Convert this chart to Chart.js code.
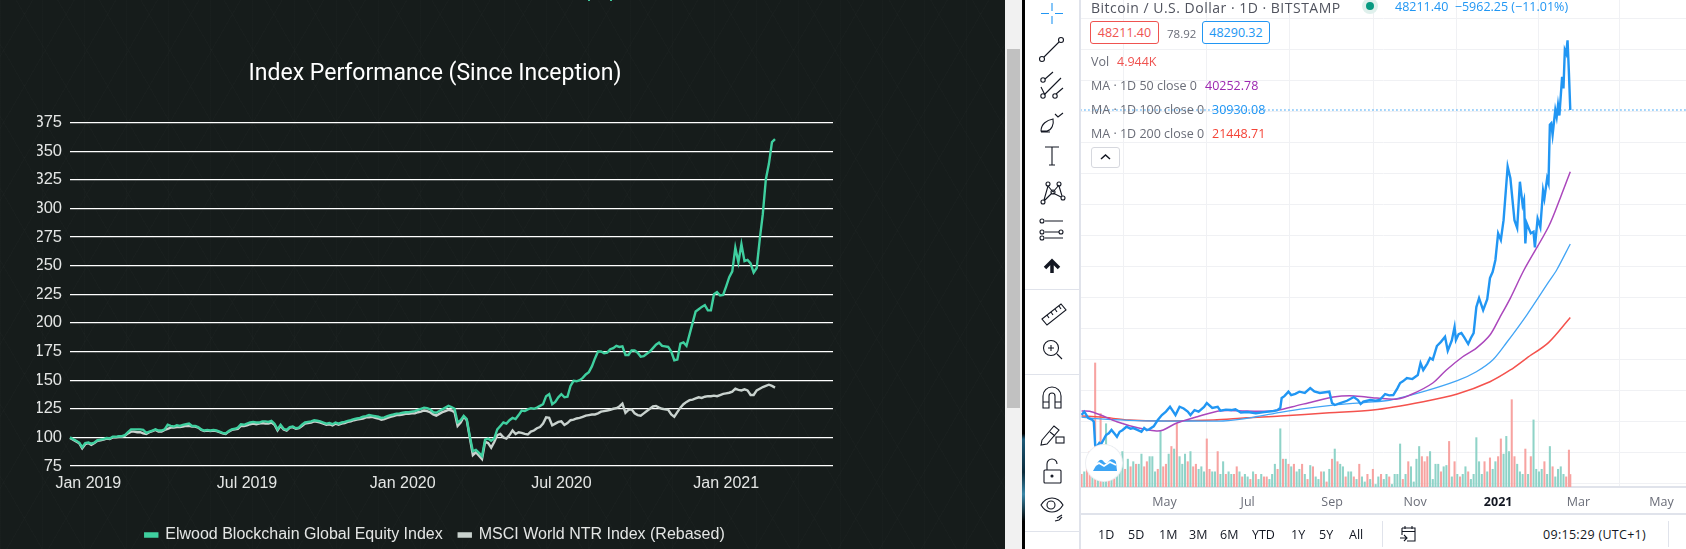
<!DOCTYPE html>
<html lang="en">
<head>
<meta charset="UTF-8">
<title>Index Performance</title>
<script src="https://cdn.jsdelivr.net/npm/chart.js"></script>
<style>
    html, body { margin: 0; padding: 0; width: 1686px; height: 549px; overflow: hidden; background: #fff; }
    .abs { position: absolute; white-space: nowrap; }
    #darkPanel {
        position: absolute; left: 0; top: 0; width: 1005px; height: 549px;
        background-color: #161c1b;
        background-image:
            repeating-linear-gradient(60deg, rgba(255,255,255,.012) 0 1px, transparent 1px 36px),
            repeating-linear-gradient(-60deg, rgba(255,255,255,.012) 0 1px, transparent 1px 36px),
            repeating-linear-gradient(90deg, rgba(255,255,255,.01) 0 1px, transparent 1px 42px);
    }
    #perfChart { position: absolute; left: 0; top: 0; }
    #track { position: absolute; left: 1005px; top: 0; width: 17px; height: 549px; background: #f1f1f1; }
    #thumb { position: absolute; left: 1007px; top: 49px; width: 13px; height: 359px; background: #c1c1c1; }
    #edge { position: absolute; left: 1022px; top: 0; width: 3px; height: 549px;
        background: linear-gradient(#000 0 79%, #1d5a78 80%, #0b2a3a 86%, #3a87a8 90%, #000 95%); }
    #toolbar { position: absolute; left: 1025px; top: 0; width: 55px; height: 549px; background: #fff; }
    #toolbar hr { position: absolute; left: 0; width: 55px; margin: 0; border: 0; height: 1px; background: #e0e3eb; }
    #sideBorder { position: absolute; left: 1079px; top: 0; width: 2px; height: 549px; background: #e0e3eb; }
    #btcChart { position: absolute; left: 1081px; top: 0; }
    .tv { font-family: "Open Sans", sans-serif; font-size: 12.5px; color: #6a6d78; transform: translateY(-50%); }
    .box { position: absolute; border: 1px solid; border-radius: 3px; box-sizing: border-box; text-align: center;
        font-family: "Open Sans", sans-serif; font-size: 12.5px; background: #fff; }
    #rangeLine { position: absolute; left: 1081px; top: 513px; width: 605px; height: 2px; background: #e0e3eb; }
    .sep { position: absolute; top: 521px; width: 1px; height: 26px; background: #e0e3eb; }
    #badge { position: absolute; left: 1086px; top: 445px; width: 36px; height: 36px; border-radius: 50%;
        background: #fff; box-shadow: 0 0 0 1px #eceef2; }
</style>
</head>
<body>
<div id="darkPanel"></div>
<div class="abs" style="left:588px;top:0;width:2px;height:1px;background:#3fc99c"></div>
<div class="abs" style="left:610px;top:0;width:2px;height:1px;background:#3fc99c"></div>
<canvas id="perfChart" width="870" height="553"></canvas>
<div id="track"></div>
<div id="thumb"></div>
<div id="edge"></div>

<div id="toolbar">
    <hr style="top:289px"><hr style="top:374px"><hr style="top:531px">
    <svg width="55" height="549" fill="none" stroke="#131722" stroke-width="1.1">
        <path d="M27 3v8M27 16v8M16 13.500h8M30 13.500h8" stroke="#2196f3"/>
        <circle cx="17" cy="59" r="2.500"/><circle cx="36" cy="40" r="2.500"/><path d="M19 57L34 42"/>
        <circle cx="18" cy="80" r="2.200"/><circle cx="18" cy="96" r="2.200"/><circle cx="30" cy="96" r="2.200"/>
        <path d="M20 79l8-7M20 94l16-16M31 94l7-6M20 95l-4-8"/>
        <path d="M16 131c0-7 6-11 12-12 1 5-1 11-6 12zM30 114l3 3 5-4M16 132h9"/>
        <path d="M20 147h14M27 147v18M24 165h6"/>
        <circle cx="18" cy="202" r="2"/><circle cx="23" cy="184" r="2"/><circle cx="34" cy="184" r="2"/><circle cx="28" cy="192" r="2"/><circle cx="38" cy="198" r="2"/>
        <path d="M19 200l4-14M23 186l5 6M28 192l6-7M34 186l3 10M19 201l8-8M28 193l8 4"/>
        <circle cx="17" cy="221" r="2"/><circle cx="17" cy="232" r="2"/><circle cx="17" cy="238" r="2"/><circle cx="36" cy="232" r="2"/>
        <path d="M20 221h18M20 238h18M20 232h14" />
        <path d="M27 273v-12M20 268l7-7 7 7" stroke-width="3.500"/>
        <path d="M17 319l19-15 5 6-19 15zM22 315l2 3M26 312l2 3M30 309l2 3M34 306l2 3"/>
        <circle cx="26" cy="348" r="7.500"/><path d="M32 354l5 5M23 348h6M26 345v6"/>
        <path d="M18 408v-12a9 9 0 0 1 18 0v12h-6v-12a3 3 0 0 0-6 0v12zM18 402h6M30 402h6"/>
        <path d="M17 440l12-14 5 4-12 14-6 1zM25 432l5 4"/><rect x="31" y="437" width="8" height="6" />
        <rect x="19" y="470" width="17" height="13" rx="1"/><path d="M22 470v-6a5 5 0 0 1 10 0" /><circle cx="27" cy="476" r="1" fill="#131722"/>
        <path d="M16 505c3-5 7-7 11-7s8 2 11 7c-3 5-7 7-11 7s-8-2-11-7z"/><circle cx="26" cy="505" r="4"/>
        <path d="M32 518l5-3M30 521l4-1 3-3"/>
    </svg>
</div>
<div id="sideBorder"></div>

<canvas id="btcChart" width="605" height="514"></canvas>

<div id="rangeLine"></div>

<span class="abs tv" style="left:1091px;top:7px;font-size:14px;letter-spacing:.5px;color:#50535e">Bitcoin / U.S. Dollar · 1D · BITSTAMP</span>
<div class="abs" style="left:1362px;top:-2px;width:16px;height:16px;border-radius:50%;background:#dff0ec"></div>
<div class="abs" style="left:1366px;top:2px;width:8px;height:8px;border-radius:50%;background:#089981"></div>
<span class="abs tv" style="left:1395px;top:6px;color:#2196f3">48211.40&nbsp; −5962.25 (−11.01%)</span>

<div class="box" style="left:1090px;top:21px;width:69px;height:23px;line-height:21px;border-color:#ef5350;color:#ef5350">48211.40</div>
<span class="abs tv" style="left:1167px;top:33px;font-size:11.500px">78.92</span>
<div class="box" style="left:1202px;top:21px;width:68px;height:23px;line-height:21px;border-color:#2196f3;color:#2196f3">48290.32</div>

<span class="abs tv" style="left:1091px;top:61px">Vol</span>
<span class="abs tv" style="left:1117px;top:61px;color:#ef5350">4.944K</span>
<span class="abs tv" style="left:1091px;top:85px">MA · 1D 50 close 0</span>
<span class="abs tv" style="left:1205px;top:85px;color:#9c27b0">40252.78</span>
<span class="abs tv" style="left:1091px;top:109px">MA · 1D 100 close 0</span>
<span class="abs tv" style="left:1212px;top:109px;color:#2196f3">30930.08</span>
<span class="abs tv" style="left:1091px;top:133px">MA · 1D 200 close 0</span>
<span class="abs tv" style="left:1212px;top:133px;color:#f44336">21448.71</span>
<div class="box" style="left:1091px;top:147px;width:29px;height:21px;border-color:#d6d8de">
    <svg width="27" height="19"><path d="M9 11l4.500-4 4.500 4" fill="none" stroke="#131722" stroke-width="1.500"/></svg>
</div>

<div id="badge">
    <svg width="36" height="36"><path d="M7 26l5-9c2-3 4-3 6 0 2 2 3 2 5-1 2-3 6-2 7 1l1 9z" fill="#3da5f4"/><path d="M8 21l5-3 5 3 6-4 6 3" fill="none" stroke="#fff" stroke-width="1.800"/></svg>
</div>

<span class="abs tv" style="left:1098px;top:534px;color:#131722">1D</span>
<span class="abs tv" style="left:1128px;top:534px;color:#131722">5D</span>
<span class="abs tv" style="left:1159px;top:534px;color:#131722">1M</span>
<span class="abs tv" style="left:1189px;top:534px;color:#131722">3M</span>
<span class="abs tv" style="left:1220px;top:534px;color:#131722">6M</span>
<span class="abs tv" style="left:1252px;top:534px;color:#131722">YTD</span>
<span class="abs tv" style="left:1291px;top:534px;color:#131722">1Y</span>
<span class="abs tv" style="left:1319px;top:534px;color:#131722">5Y</span>
<span class="abs tv" style="left:1349px;top:534px;color:#131722">All</span>
<div class="sep" style="left:1382px"></div>
<svg class="abs" style="left:1399px;top:525px" width="18" height="18" fill="none" stroke="#131722" stroke-width="1.100">
    <path d="M3 3h13v13H8M3 3v7M3 6.500h13M6 1v3M13 1v3M1 13h7M5 10l3 3-3 3"/>
</svg>
<span class="abs tv" style="left:1543px;top:534px;color:#131722;letter-spacing:.3px">09:15:29 (UTC+1)</span>
<div class="sep" style="left:1668px"></div>

<script>
    // left chart: one value roughly every half week
    const perfTickIndex = [6, 58, 109, 161, 215];
    const perfTickLabels = ['Jan 2019', 'Jul 2019', 'Jan 2020', 'Jul 2020', 'Jan 2021'];
    const perfSlots = 251;

    const elwoodValues = [
        100, 98.5, 97, 95.5, 91.5, 95, 95.5, 94.5, 95.5, 97.5,
        98, 98.5, 99.5, 99, 100.5, 100.5, 101, 101, 102, 104.5,
        107, 107, 107, 107, 106.5, 104, 105, 106, 107, 106,
        106, 107, 111, 110, 109.5, 110.5, 110, 111, 111.5, 112,
        110, 110, 109, 107, 106, 106.5, 106, 106.5, 106, 105,
        104, 103.5, 105.5, 107, 107.5, 108.5, 111.5, 111, 112, 113,
        113.5, 113, 113, 114, 114, 113.5, 114.5, 112, 107, 111,
        107.5, 106.5, 109, 109.5, 108, 108.5, 111, 113, 113.5, 114,
        115, 114.5, 114, 113, 112, 112.5, 111.5, 113, 112, 113,
        113.5, 114.5, 115, 116, 116.5, 117, 118, 118.5, 119.5, 119,
        118.5, 118, 117, 117.5, 118.5, 119.5, 120, 120.8, 121, 121.5,
        122, 122, 122.5, 123, 124, 125, 126, 125.5, 124.5, 122,
        121.5, 123, 124.5, 126, 127.5, 126.5, 125, 113, 115, 118.7,
        116, 101, 88, 89, 86.5, 83.6, 98, 99, 97, 99,
        107, 110, 113, 112, 115, 117, 116, 119.5, 123.5, 123,
        124.5, 125.5, 125, 126, 127.5, 129, 136, 137.7, 129, 131,
        135, 137.7, 135, 135.5, 145, 149.4, 149, 150, 152, 155,
        157, 162, 169, 175, 175, 173.5, 174, 177, 178, 180,
        179, 179.5, 172, 172, 176, 176, 174, 170.5, 171, 173,
        175, 178, 181, 182.8, 180, 179.5, 179, 175, 167.4, 168,
        182, 183, 180, 190, 200, 210, 212, 214, 215.6, 211,
        211, 225, 227, 224, 224.5, 232, 240, 245, 265.7, 253,
        268.7, 254, 255, 252, 244, 248, 273, 295, 325.5, 339,
        358, 360.5
    ];

    const msciValues = [
        99.5, 98, 96.5, 95, 90.5, 94, 95, 93.5, 95, 97,
        97.5, 98, 99, 98.5, 100, 100, 100.5, 100.5, 101.5, 103.5,
        105, 105, 104.5, 104.5, 103.5, 103, 104.5, 105.5, 106.5, 105,
        105, 106.5, 107.5, 108.5, 108.5, 109, 109, 109.5, 110, 110,
        109.5, 109.5, 108.5, 106.5, 105.5, 106, 105.5, 106, 105.5, 104.5,
        103.5, 103, 105, 106.5, 107, 107.5, 110, 110, 110.5, 111.5,
        112, 111.5, 112, 112.5, 112, 112, 113, 111, 106, 110,
        107, 106, 108.5, 109, 107.5, 108, 110, 112, 112.5, 113,
        114, 113.5, 113, 112, 111, 111.5, 110.5, 112, 111, 112,
        112.5, 113.5, 114, 115, 115.5, 116, 116.5, 117.5, 117.5, 118,
        117, 116.5, 115.5, 116, 117, 118, 118.5, 119.5, 119.5, 120,
        120.5, 120.5, 121, 121, 122, 122.5, 123.5, 123, 122, 120,
        119, 120.5, 122, 123, 124, 123.5, 122, 110, 113, 118,
        115, 99.7, 84.5, 87, 84, 81, 96, 95, 91, 96,
        102, 103, 100, 99, 102, 106, 103, 104.5, 104, 103,
        102.5, 105, 106, 108, 109, 112, 117.5, 117, 110.5, 112,
        113.5, 114, 110.8, 112.5, 115, 115.5, 116.5, 117, 118, 119,
        119.5, 120, 120, 121, 122.5, 123, 123.5, 124, 125, 125.5,
        127, 129.5, 121.5, 124, 124.5, 121, 119.5, 119, 121, 123,
        125, 127, 127.5, 126, 125, 124.5, 124, 120, 118, 122,
        126, 129, 131, 132.5, 133, 134, 135, 134.5, 135.5, 136,
        136, 136.5, 136, 137, 138, 138.5, 139, 140, 142.5, 141.5,
        141, 142, 141, 137, 137, 141, 142.5, 144, 145, 146,
        145, 143.5
    ];

    const perfYMin = 75;
    const perfYMax = 375;
    const perfYStep = 25;

    // right chart: prices in USD, days counted from 1 Mar 2020
    const priceDays = [
        0, 2, 5, 8, 9, 10, 11, 13, 14, 16, 18, 20, 22, 24, 26, 28, 30, 33, 36, 38,
        41, 44, 46, 48, 50, 53, 56, 59, 62, 65, 67, 69, 72, 75, 78, 80, 83, 86, 90, 92,
        96, 100, 102, 106, 110, 113, 117, 122, 128, 134, 141, 144, 146, 147, 149, 152, 154, 157, 160, 164,
        168, 171, 175, 179, 182, 184, 186, 190, 195, 200, 203, 205, 207, 212, 216, 219, 223, 226, 229, 232,
        234, 236, 239, 243, 247, 249, 251, 254, 256, 258, 261, 264, 267, 269, 272, 274, 275, 277, 279, 281,
        284, 286, 288, 290, 292, 295, 298, 300, 302, 304, 306, 308, 310, 313, 315, 318, 320, 322, 324, 325,
        326, 327, 330, 332, 333, 335, 337, 339, 340, 342, 343, 344, 345, 346, 348, 349, 350, 351, 353, 354,
        355, 356, 357, 358, 359
    ];
    const priceCloses = [
        8860, 9290, 8470, 8220, 8000, 5000, 4730, 5240, 5000, 5630, 6280, 6500, 6930, 6500, 6060, 6700, 6900, 7350, 7100, 7180,
        6950, 6700, 7180, 6900, 7050, 7400, 8220, 8860, 9300, 9930, 9400, 8860, 9930, 9700, 9300, 8860, 9500, 9300, 9900, 10400,
        9770, 9930, 9420, 9550, 9500, 9600, 9190, 9250, 9100, 9230, 9380, 9500, 9770, 11050, 11300, 11870, 11440, 11600, 11870, 11700,
        12340, 11900, 11700, 11800, 11870, 10400, 10150, 10400, 10700, 11180, 10800, 10280, 10600, 10800, 10700, 10800, 11570, 11400, 11440, 12300,
        12990, 13200, 13640, 13500, 14020, 15570, 14670, 15500, 16220, 16000, 17760, 18300, 18960, 17160, 18500, 20210, 18540, 19300, 19440, 18900,
        18020, 18800, 19440, 22790, 23950, 22400, 23800, 26530, 27340, 28860, 32300, 31440, 34000, 40900, 39400, 34000, 33000, 38960, 35950, 36600,
        31000, 33600, 32300, 32500, 30500, 34200, 33100, 37800, 36800, 39400, 38800, 46300, 46500, 45000, 48200, 47300, 48850, 47500, 52500, 51000,
        55950, 55500, 57200, 53000, 48211
    ];
    const lastPrice = 48211.40;

    const ma50Days = [0, 6, 14, 26, 42, 55, 60, 70, 85, 102, 121, 141, 155, 170, 185, 197, 209, 217, 232, 243, 258, 268, 280, 290, 300, 307, 315, 325, 343, 352, 359];
    const ma50Values = [9380, 9350, 8860, 8000, 7180, 6800, 6930, 7830, 8640, 9420, 9380, 9380, 9930, 10580, 11180, 11350, 11180, 11050, 10930, 11570, 12990, 14670, 16380, 17500, 19180, 21370, 23950, 27570, 33150, 37030, 40252];
    const ma100Days = [0, 11, 35, 58, 82, 104, 126, 146, 165, 185, 209, 227, 251, 276, 290, 302, 312, 327, 343, 349, 359];
    const ma100Values = [8600, 8390, 8180, 8090, 8090, 8090, 8570, 9210, 9730, 10150, 10500, 10800, 11870, 13290, 14450, 15960, 18150, 21760, 26000, 27570, 30930];
    const ma200Days = [0, 14, 35, 60, 97, 121, 146, 182, 214, 251, 276, 300, 315, 327, 343, 359];
    const ma200Values = [8730, 8600, 8220, 8090, 8220, 8510, 8730, 9160, 9500, 10580, 11570, 13160, 14670, 16200, 18200, 21448];

    // volume in thousands, one bar per two days, 1 = up day, 0 = down day
    const volumeK = [
        5, 6, 8, 14, 8, 49, 7, 29, 10, 25, 14, 16, 12, 7, 9, 14, 7, 11, 8, 10,
        9, 9, 13, 8, 10, 12, 12, 6, 7, 22, 8, 9, 13, 16, 15, 25, 12, 9, 13, 10,
        14, 8, 9, 7, 8, 6, 19, 7, 6, 6, 14, 5, 10, 5, 6, 5, 5, 8, 6, 4,
        5, 4, 3, 6, 5, 3, 5, 4, 4, 3, 5, 9, 7, 23, 11, 11, 9, 8, 9, 6,
        7, 9, 5, 3, 8.5, 8, 4, 3, 6, 6, 2, 7, 11, 15, 10, 9, 8, 4, 6, 6,
        4, 3, 9, 4, 2, 5, 3, 7, 1, 4, 5, 3, 5, 4, 1, 5, 5, 17, 3, 5,
        10, 8, 2, 11, 16, 12, 10, 12, 14, 3, 9, 9, 6, 8, 8.5, 18, 4, 10, 5, 4,
        5, 8, 6, 3, 5, 19.5, 10, 5, 10, 6, 11.5, 7, 10, 12, 19, 13, 20, 14, 34.5, 12,
        9, 6, 5, 15, 5, 12, 26.5, 7, 6, 7, 10, 5, 16, 8, 4, 7, 8, 5, 4, 14.6,
        4.944
    ];
    const volumeUp = [
        0, 1, 0, 0, 1, 0, 1, 0, 1, 1, 0, 1, 0, 1, 1, 1, 0, 1, 0, 1,
        0, 1, 1, 0, 0, 1, 1, 1, 0, 1, 0, 0, 1, 0, 1, 0, 1, 1, 1, 0,
        1, 0, 0, 1, 1, 1, 0, 0, 1, 1, 0, 1, 1, 0, 1, 1, 0, 0, 1, 0,
        1, 1, 0, 1, 0, 1, 1, 0, 0, 1, 1, 1, 0, 1, 0, 1, 0, 1, 0, 1,
        1, 0, 1, 0, 1, 0, 1, 1, 0, 1, 0, 1, 0, 1, 0, 1, 1, 0, 1, 1,
        0, 1, 0, 1, 1, 0, 1, 0, 1, 1, 0, 1, 1, 0, 1, 1, 1, 1, 0, 1,
        0, 1, 1, 1, 1, 0, 0, 0, 1, 1, 1, 1, 0, 1, 1, 0, 1, 0, 1, 0,
        1, 1, 0, 1, 1, 1, 1, 1, 0, 1, 0, 1, 1, 0, 0, 1, 1, 1, 0, 0,
        1, 1, 1, 0, 1, 0, 1, 1, 1, 1, 0, 1, 1, 0, 1, 1, 1, 1, 0, 0,
        0
    ];

    const btcTickDays = [61, 122, 184, 245, 306, 365, 426];
    const btcTickLabels = ['May', 'Jul', 'Sep', 'Nov', '2021', 'Mar', 'May'];

    function pairs(xs, ys) {
        return xs.map((x, i) => ({ x: x, y: ys[i] }));
    }

    function CreatePerfChart() {
        var labels = new Array(perfSlots).fill('');
        perfTickIndex.forEach((idx, i) => { labels[idx] = perfTickLabels[i]; });

        new Chart(document.getElementById('perfChart').getContext('2d'), {
            type: 'line',
            data: {
                labels: labels,
                datasets: [{
                    label: 'Elwood Blockchain Global Equity Index',
                    data: elwoodValues,
                    borderColor: '#3fcf9f',
                    backgroundColor: '#3fcf9f',
                    borderWidth: 2.4,
                    pointRadius: 0,
                    tension: 0
                }, {
                    label: 'MSCI World NTR Index (Rebased)',
                    data: msciValues,
                    borderColor: '#c9d2ce',
                    backgroundColor: '#c9d2ce',
                    borderWidth: 2.4,
                    pointRadius: 0,
                    tension: 0
                }]
            },
            options: {
                responsive: false,
                animation: false,
                layout: { padding: { left: 37, right: 37, bottom: 0 } },
                plugins: {
                    title: {
                        display: true,
                        text: 'Index Performance (Since Inception)',
                        color: '#ffffff',
                        font: { family: 'Roboto', size: 23, weight: 'normal' },
                        padding: { top: 60, bottom: 35 }
                    },
                    legend: {
                        position: 'bottom',
                        labels: {
                            color: '#e4e6e5',
                            font: { family: 'Liberation Sans', size: 16 },
                            boxWidth: 12,
                            boxHeight: 3,
                            padding: 16
                        }
                    },
                    tooltip: { enabled: false }
                },
                scales: {
                    x: {
                        grid: { display: false },
                        border: { display: false },
                        ticks: {
                            autoSkip: false,
                            maxRotation: 0,
                            color: '#e4e6e5',
                            padding: 0,
                            font: { family: 'Liberation Sans', size: 16 }
                        },
                        afterFit: function (scale) { scale.height = 45; }
                    },
                    y: {
                        min: perfYMin,
                        max: perfYMax,
                        grid: { color: '#ffffff', lineWidth: 1.3, drawTicks: false },
                        border: { display: false },
                        ticks: {
                            stepSize: perfYStep,
                            color: '#e4e6e5',
                            padding: 8,
                            font: { family: 'Liberation Sans', size: 16.5 }
                        },
                        afterFit: function (scale) { scale.width = 33; }
                    }
                }
            }
        });
    }

    function CreateBtcChart() {
        var volumeDays = volumeK.map((v, i) => Math.min(i * 2, 359));

        new Chart(document.getElementById('btcChart').getContext('2d'), {
            data: {
                datasets: [{
                    type: 'line', label: 'Last', yAxisID: 'y',
                    data: [{ x: -1, y: lastPrice }, { x: 444, y: lastPrice }],
                    borderColor: '#2196f3', borderWidth: 1.2, borderDash: [1.5, 2.5], pointRadius: 0, order: 1
                }, {
                    type: 'line', label: 'BTC', yAxisID: 'y',
                    data: pairs(priceDays, priceCloses),
                    borderColor: '#2196f3', borderWidth: 2.4, pointRadius: 0, tension: 0, order: 2
                }, {
                    type: 'line', label: 'MA 50', yAxisID: 'y',
                    data: pairs(ma50Days, ma50Values),
                    borderColor: '#ab47bc', borderWidth: 1.5, pointRadius: 0, tension: 0.3, order: 3
                }, {
                    type: 'line', label: 'MA 100', yAxisID: 'y',
                    data: pairs(ma100Days, ma100Values),
                    borderColor: '#42a5f5', borderWidth: 1.3, pointRadius: 0, tension: 0.3, order: 4
                }, {
                    type: 'line', label: 'MA 200', yAxisID: 'y',
                    data: pairs(ma200Days, ma200Values),
                    borderColor: '#f4524d', borderWidth: 1.5, pointRadius: 0, tension: 0.3, order: 5
                }, {
                    type: 'bar', label: 'Volume', yAxisID: 'vol',
                    data: pairs(volumeDays, volumeK),
                    backgroundColor: volumeUp.map(u => u ? '#8fd3c8' : '#f7a3a1'),
                    barThickness: 1.4,
                    order: 6
                }]
            },
            options: {
                responsive: false,
                animation: false,
                parsing: true,
                layout: { padding: 0 },
                plugins: { legend: { display: false }, tooltip: { enabled: false }, title: { display: false } },
                scales: {
                    x: {
                        type: 'linear',
                        min: -0.4,
                        max: 444,
                        offset: false,
                        afterBuildTicks: function (scale) {
                            scale.ticks = btcTickDays.map(d => ({ value: d }));
                        },
                        grid: { color: '#f0f1f4', lineWidth: 1, drawTicks: false },
                        border: { color: '#e0e3eb', width: 2 },
                        ticks: {
                            autoSkip: false,
                            maxRotation: 0,
                            padding: 8,
                            color: function (ctx) { return ctx.tick && btcTickDays.indexOf(ctx.tick.value) === 4 ? '#131722' : '#6a6d78'; },
                            font: function (ctx) {
                                var bold = ctx.tick && btcTickDays.indexOf(ctx.tick.value) === 4;
                                return { family: 'Open Sans', size: 12.5, weight: bold ? 'bold' : 'normal' };
                            },
                            callback: function (value) { return btcTickLabels[btcTickDays.indexOf(value)]; }
                        },
                        afterFit: function (scale) { scale.height = 27; }
                    },
                    y: {
                        min: -425,
                        max: 62400,
                        afterBuildTicks: function (scale) {
                            var t = [];
                            for (var v = 0; v <= 60000; v += 4000) t.push({ value: v });
                            scale.ticks = t;
                        },
                        grid: { color: '#f0f1f4', lineWidth: 1, drawTicks: false },
                        border: { display: false },
                        ticks: { display: false },
                        afterFit: function (scale) { scale.width = 0; }
                    },
                    vol: {
                        display: false,
                        min: 0,
                        max: 192.4
                    }
                }
            }
        });
    }

    CreatePerfChart();
    CreateBtcChart();
</script>
</body>
</html>
